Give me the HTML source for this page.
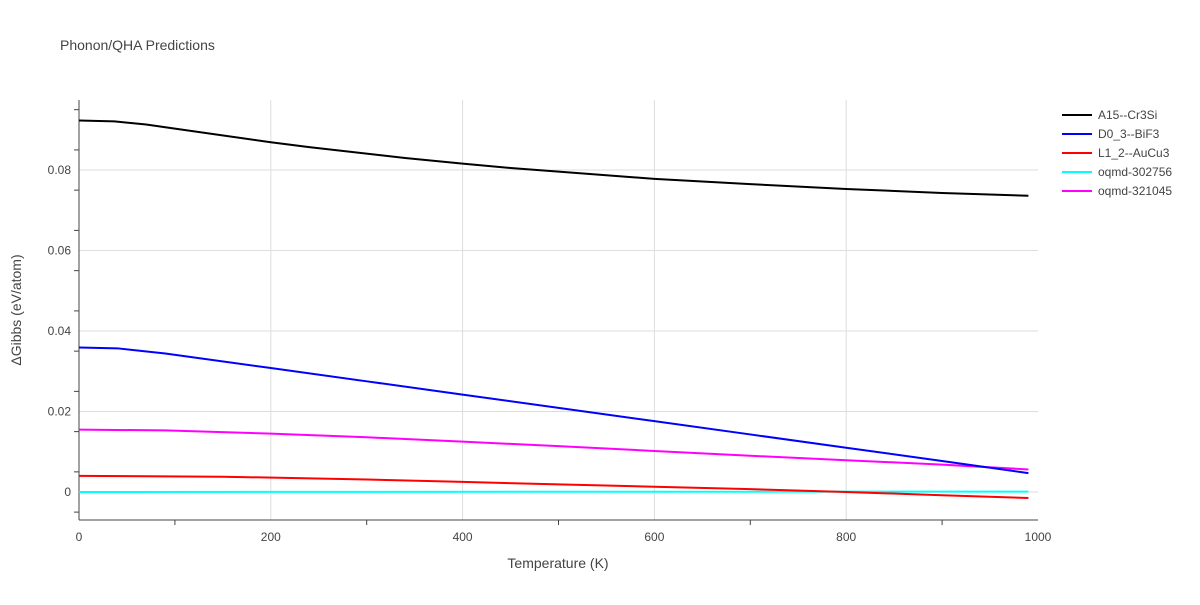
<!DOCTYPE html>
<html><head><meta charset="utf-8"><style>
body{margin:0;background:#fff;font-family:"Liberation Sans",sans-serif;}
</style></head><body>
<svg id="chart" width="1200" height="600" xmlns="http://www.w3.org/2000/svg" font-family="Liberation Sans, sans-serif">
<rect width="1200" height="600" fill="#fff"/>
<text x="60" y="50" font-size="14" fill="#444">Phonon/QHA Predictions</text>
<g id="grid"></g><g id="axes"></g><g id="series"></g><g id="legend"></g>
<text x="558" y="568" font-size="14" fill="#444" text-anchor="middle">Temperature (K)</text>
<text transform="translate(21,310) rotate(-90)" font-size="14" fill="#444" text-anchor="middle">ΔGibbs (eV/atom)</text>
</svg>
<script>
const xTicks=[0,200,400,600,800,1000];
const yTicks=[0,0.02,0.04,0.06,0.08];
const yTickLabels=["0","0.02","0.04","0.06","0.08"];
const seriesNames=["A15--Cr3Si","D0_3--BiF3","L1_2--AuCu3","oqmd-302756","oqmd-321045"];
const seriesColors=["#000000","#0000ff","#ff0000","#00ffff","#ff00ff"];
const tA15=[0,37,70,100,200,240,340,400,450,500,600,700,800,900,990];
const vA15=[0.0923,0.0921,0.0913,0.0903,0.0869,0.0857,0.0830,0.0816,0.0805,0.0796,0.0778,0.0765,0.0753,0.0743,0.0736];
const tD03=[0,40,90,200,300,400,500,600,700,800,900,990];
const vD03=[0.0359,0.0357,0.0344,0.0308,0.0275,0.0242,0.0209,0.0176,0.0143,0.0110,0.0077,0.0047];
const tL12=[0,150,300,400,500,600,700,800,900,990];
const vL12=[0.0040,0.0038,0.0031,0.0025,0.0019,0.0013,0.0007,0.0,-0.0008,-0.0015];
const t302=[0,990];
const v302=[0,0.0001];
const t321=[0,90,200,300,400,500,600,700,800,900,990];
const v321=[0.0155,0.0153,0.0145,0.0136,0.0125,0.0114,0.0102,0.0090,0.0079,0.0068,0.0056];

const X0=79,X1=1038,Y0=100,Y1=520;
const xMin=0,xMax=1000,yMin=-0.00696,yMax=0.0974;
const sx=v=>X0+(v-xMin)/(xMax-xMin)*(X1-X0);
const sy=v=>Y1-(v-yMin)/(yMax-yMin)*(Y1-Y0);
const NS="http://www.w3.org/2000/svg";
function mk(tag,parent,attrs){const e=document.createElementNS(NS,tag);for(const k in attrs)e.setAttribute(k,attrs[k]);parent.appendChild(e);return e;}
const grid=document.getElementById('grid'),axes=document.getElementById('axes'),ser=document.getElementById('series'),leg=document.getElementById('legend');
xTicks.forEach(t=>{
 if(t>0&&t<1000){const l=mk('line',grid,{x1:sx(t),x2:sx(t),y1:Y0,y2:Y1,stroke:'#ddd'});
 
 }
 const tx=mk('text',axes,{x:sx(t),y:541,'font-size':12,fill:'#444','text-anchor':'middle'});tx.textContent=t;
 
 
});
for(let t=100;t<1000;t+=200){const m=mk('line',axes,{x1:sx(t),x2:sx(t),y1:Y1,y2:Y1+5,stroke:'#444'});
 
 }
yTicks.forEach((t,i)=>{
 const l=mk('line',grid,{x1:X0,x2:X1,y1:sy(t),y2:sy(t),stroke:t===0?'#ddd':'#ddd'});
 
 
 const tx=mk('text',axes,{x:X0-8,y:sy(t)+4,'font-size':12,fill:'#444','text-anchor':'end'});tx.textContent=yTickLabels[i];
 
 
});
for(let t=-0.005;t<0.095;t+=0.01){const m=mk('line',axes,{x1:X0-5,x2:X0,y1:sy(t),y2:sy(t),stroke:'#444'});
 
 }
const xa=mk('line',axes,{x1:X0,x2:X1,y1:Y1,y2:Y1,stroke:'#444'});


const ya=mk('line',axes,{x1:X0,x2:X0,y1:Y0,y2:Y1,stroke:'#444'});


const data=[[tA15,vA15],[tD03,vD03],[tL12,vL12],[t302,v302],[t321,v321]];
const order=[3,2,4,1,0];
order.forEach(i=>{
 const [ts,vs]=data[i];
 const p=mk('polyline',ser,{points:ts.map((t,j)=>sx(t)+','+sy(vs[j])).join(' '),fill:'none',stroke:seriesColors[i],'stroke-width':2});
 
 
});
seriesNames.forEach((n,i)=>{
 const y=115+i*19;
 const g=mk('g',leg,{});
 
 
 mk('line',g,{x1:1062,x2:1092,y1:y,y2:y,stroke:seriesColors[i],'stroke-width':2});
 const tx=mk('text',g,{x:1098,y:y+4,'font-size':12,fill:'#444'});tx.textContent=n;
});
</script>
</body></html>
